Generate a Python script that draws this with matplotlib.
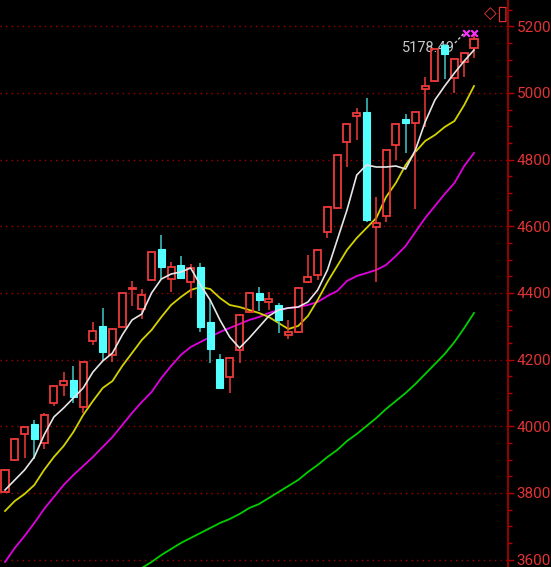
import numpy as np
import matplotlib
matplotlib.use("Agg")
import matplotlib.pyplot as plt
from matplotlib.patches import Rectangle

# ---- data ----
opens  = [3803, 3899, 3977, 4007, 3950, 4070, 4124, 4139, 4058, 4256, 4301, 4214, 4298, 4412, 4352, 4439,
          4532, 4442, 4484, 4433, 4478, 4313, 4202, 4148, 4229, 4343, 4400, 4373, 4364, 4274, 4283, 4433,
          4454, 4583, 4655, 4853, 4931, 4943, 4598, 4631, 4844, 4922, 4910, 5012, 5036, 5144, 5045, 5093, 5135]
highs  = [3871, 3964, 3999, 4019, 4040, 4122, 4163, 4181, 4195, 4313, 4355, 4294, 4401, 4436, 4412, 4524,
          4574, 4493, 4511, 4487, 4490, 4379, 4217, 4207, 4336, 4402, 4418, 4403, 4370, 4319, 4417, 4514,
          4530, 4659, 4815, 4908, 4955, 4985, 4688, 4830, 4908, 4937, 4944, 5048, 5133, 5147, 5103, 5121, 5178.49]
lows   = [3801, 3897, 3905, 3902, 3932, 4061, 4091, 4070, 4040, 4244, 4196, 4193, 4297, 4361, 4322, 4438,
          4442, 4403, 4443, 4385, 4283, 4190, 4113, 4100, 4190, 4341, 4346, 4349, 4280, 4262, 4281, 4431,
          4439, 4565, 4653, 4778, 4859, 4613, 4433, 4613, 4799, 4820, 4652, 4898, 5034, 5042, 5000, 5048, 5105]
closes = [3869, 3962, 3998, 3962, 4034, 4121, 4136, 4088, 4193, 4286, 4223, 4292, 4400, 4415, 4394, 4523,
          4478, 4478, 4445, 4475, 4298, 4232, 4115, 4205, 4334, 4400, 4379, 4382, 4319, 4283, 4415, 4448,
          4529, 4658, 4814, 4907, 4940, 4619, 4610, 4829, 4907, 4910, 4943, 5021, 5132, 5117, 5102, 5120, 5162]

ma_white = [3809, 3839, 3869, 3908, 3974, 4028, 4055, 4085, 4115, 4163, 4196, 4220, 4274, 4319, 4337, 4400,
            4442, 4457, 4463, 4475, 4424, 4379, 4319, 4268, 4235, 4265, 4298, 4331, 4349, 4355, 4358, 4373,
            4409, 4469, 4559, 4649, 4754, 4784, 4778, 4778, 4781, 4772, 4829, 4913, 4979, 5021, 5060, 5096, 5129]
ma_yellow = [3746, 3776, 3797, 3824, 3869, 3908, 3941, 3983, 4034, 4076, 4115, 4136, 4181, 4220, 4259, 4289,
             4328, 4364, 4388, 4409, 4418, 4412, 4385, 4364, 4358, 4349, 4340, 4328, 4310, 4292, 4301, 4331,
             4379, 4433, 4481, 4529, 4565, 4595, 4625, 4688, 4730, 4784, 4823, 4856, 4874, 4898, 4916, 4964, 5021]
ma_magenta = [3593, 3635, 3671, 3710, 3752, 3788, 3824, 3854, 3881, 3908, 3938, 3968, 4004, 4040, 4073, 4103,
              4145, 4181, 4214, 4238, 4253, 4268, 4283, 4295, 4307, 4319, 4328, 4340, 4349, 4355, 4358, 4364,
              4373, 4391, 4406, 4436, 4451, 4460, 4469, 4484, 4511, 4541, 4583, 4625, 4661, 4697, 4730, 4781, 4820]
ma_green = [np.nan] * 14 + [3575, 3593, 3614, 3632, 3650, 3665, 3680, 3695, 3710, 3722, 3737, 3755, 3767, 3785,
            3803, 3821, 3839, 3863, 3884, 3908, 3929, 3956, 3977, 4001, 4025, 4052, 4076, 4100, 4127, 4157,
            4187, 4217, 4253, 4295, 4340]

y_ticks = [3600, 3800, 4000, 4200, 4400, 4600, 4800, 5000, 5200]
high_label = "5178.49"

# ---- style ----
FONT = ["Roboto", "DejaVu Sans"]
UP = "#EE3A3A"
DOWN = "#54FFFF"
AXRED = "#B00000"
GRID = "#A00000"

W, H = 551, 567
fig = plt.figure(figsize=(W / 100, H / 100), dpi=100, facecolor="black")
ax = fig.add_axes([0, 0, 508 / W, 1], facecolor="black")

n = len(closes)
x = np.arange(n)
ax.set_xlim(-0.512, 51.48)
ax.set_ylim(3578, 5279)

for s in ["left", "top", "bottom"]:
    ax.spines[s].set_visible(False)
ax.spines["right"].set_color(AXRED)
ax.spines["right"].set_linewidth(1.2)
ax.set_xticks([])
ax.yaxis.tick_right()
ax.set_yticks(y_ticks)
ax.set_yticks(np.arange(3600, 5300, 50), minor=True)
ax.tick_params(axis="y", which="major", direction="out", length=4, width=1, color=AXRED,
               labelcolor="#E03434", labelsize=11, pad=2)
ax.tick_params(axis="y", which="minor", direction="out", length=3, width=1, color=AXRED)
for lab in ax.get_yticklabels():
    lab.set_family(FONT)

for t in y_ticks:
    ax.axhline(t, color=GRID, lw=1, linestyle=(0, (1, 3)), zorder=1)

# moving-average lines
ax.plot(x, ma_green, color="#00D000", lw=1.3, zorder=2)
ax.plot(x, ma_magenta, color="#E000E0", lw=1.3, zorder=2)
ax.plot(x, ma_yellow, color="#D2D200", lw=1.3, zorder=2)

# label of highest price (drawn under candles)
ax.text(46.0, 5136, high_label, color="#C8C8C8", ha="right", va="center", fontsize=10.5,
        family=FONT, zorder=2.5)
ax.plot([46.05, 47.0], [5150, 5180], color="#C8C8C8", lw=1, linestyle=(0, (2, 1.5)), zorder=2.5)

wdt = 0.72
for i in range(n):
    o, h, l, c = opens[i], highs[i], lows[i], closes[i]
    if c >= o:
        ax.vlines(i, c, h, color=UP, lw=1.1, zorder=3)
        ax.vlines(i, l, o, color=UP, lw=1.1, zorder=3)
        ax.add_patch(Rectangle((i - wdt / 2, o), wdt, max(c - o, 3), fill=False,
                               edgecolor=UP, lw=1.3, zorder=3))
    else:
        ax.vlines(i, l, h, color="#40C8C8", lw=1.1, zorder=3)
        ax.add_patch(Rectangle((i - wdt / 2, c), wdt, o - c, facecolor=DOWN,
                               edgecolor=DOWN, lw=0.8, zorder=3.1))

ax.plot(x, ma_white, color="#E6E6E6", lw=1.2, zorder=4)

# cursor markers at the high
ax.scatter([47.2, 48.0], [5181, 5181], marker="x", s=22, color="#FF30FF", linewidths=1.5, zorder=5)

# top-right symbols
fig.text(490 / W, 1 - 14 / H, "\u25C7", color="#E03434", fontsize=12, ha="center", va="center",
         family="DejaVu Sans")
fig.text(502 / W, 1 - 14 / H, "\u25AF", color="#E03434", fontsize=15, ha="center", va="center",
         family="DejaVu Sans")

fig.savefig("out.png", dpi=100, facecolor="black")
